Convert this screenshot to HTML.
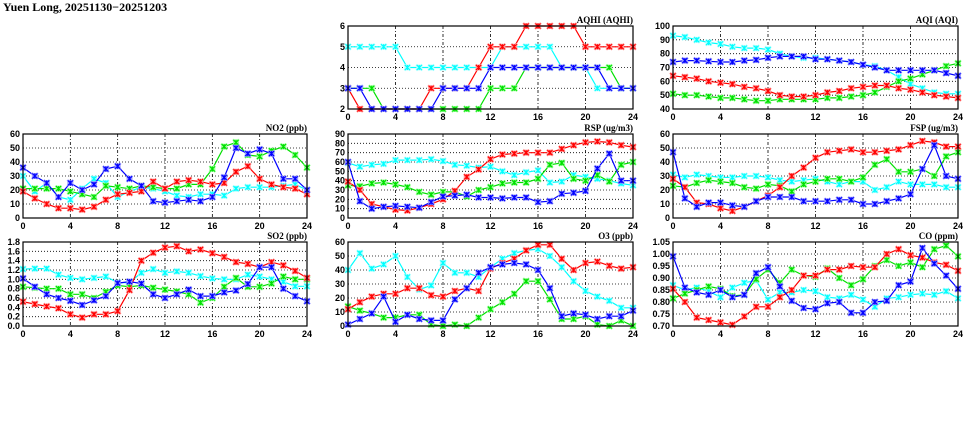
<!DOCTYPE html>
<html><head><meta charset="utf-8">
<style>
body{margin:0;background:#fff;width:975px;height:447px;overflow:hidden;}
svg{display:block;font-family:"Liberation Sans",sans-serif;}
.tick{font-size:9px;font-weight:bold;fill:#000;}
.ttl{font-family:"Liberation Serif",serif;font-size:9px;font-weight:bold;fill:#000;}
</style></head>
<body>
<svg id="chart" width="975" height="447" viewBox="0 0 975 447">
<text x="3" y="11" font-family="Liberation Serif, serif" font-weight="bold" font-size="12">Yuen Long, 20251130−20251203</text>
</svg>
<script>
const hours=[0,1,2,3,4,5,6,7,8,9,10,11,12,13,14,15,16,17,18,19,20,21,22,23,24];
const xTicks=[0,4,8,12,16,20,24];

const aqhiRed=[3,2,2,2,2,2,2,3,3,3,3,4,5,5,5,6,6,6,6,6,5,5,5,5,5];
const aqhiCyan=[5,5,5,5,5,4,4,4,4,4,4,4,4,5,5,5,5,5,4,4,4,3,3,3,3];
const aqhiGreen=[3,3,3,2,2,2,2,2,2,2,2,2,3,3,3,4,4,4,4,4,4,4,4,3,3];
const aqhiBlue=[3,3,2,2,2,2,2,2,3,3,3,3,4,4,4,4,4,4,4,4,4,4,3,3,3];
const aqhiTicks=[2,3,4,5,6];

const aqiCyan=[93,92,90,88,87,85,84,84,83,80,78,77,77,76,75,74,72,71,68,63,58,55,52,51,51];
const aqiBlue=[74,75,75,74.5,74,74,75,75.5,77,78,78,78,76,76,75,74,72,70,68,68,68,68,68,66,64];
const aqiRed=[64,63,62,60,59,58,56,55,53,50,49,49,50,52,53,55,56,57,57,55,54,52,50,49,48];
const aqiGreen=[51,50,50,49,48,48,47,46,46,47,47,47,47,48,48,49,50,52,56,60,62,65,68,71,73];
const aqiTicks=[40,50,60,70,80,90,100];

const no2Blue=[36,30,25,15,25,20,24,35,37,28,23,12,11,12,13,12,15,29,50,46,49,46,28,28,20];
const no2Cyan=[30,19,25,15,13,21,28,25,15,19,22,21,19,16,15,17,17,16,21,22,22,22,23,24,20];
const no2Green=[21,21,21,21,19,17,15,23,22,21,23,22,21,21,24,24,35,51,54,45,44,48,51,45,36];
const no2Red=[19,14,10,7,7,6,8,13,17,18,19,26,21,26,27,26,24,25,33,37,28,24,22,21,17];
const no2Ticks=[0,10,20,30,40,50,60];

const rspRed=[39,30,15,12,9,8,11,15,20,29,44,52,63,68,69,70,70,70,74,78,81,82,81,78,76];
const rspCyan=[59,55,57,58,62,62,62,63,61,57,56,54,55,50,46,49,51,38,39,46,44,42,40,37,35];
const rspGreen=[35,34,37,38,36,33,28,25,28,28,23,30,33,37,38,38,42,57,59,42,40,46,39,57,60];
const rspBlue=[60,18,10,12,13,12,11,17,23,24,25,22,22,21,22,22,17,18,26,27,29,53,69,40,40];
const rspTicks=[0,10,20,30,40,50,60,70,80,90];

const fspRed=[28,22,11,10,7,5,8,12,16,22,30,36,43,47,48,49,47,47,48,49,52,55,54,51,51];
const fspCyan=[31,29,31,30,29,29,30,30,29,27,26,27,28,26,24,26,26,20,22,26,24,24,24,22,22];
const fspGreen=[23,22,25,27,26,25,22,21,24,23,19,24,26,28,28,26,29,38,42,33,33,35,30,44,47];
const fspBlue=[47,14,8,11,11,9,8,12,15,15,15,12,12,12,13,13,10,10,12,14,17,35,52,30,28];
const fspTicks=[0,10,20,30,40,50,60];

const so2Red=[0.52,0.47,0.42,0.38,0.25,0.18,0.25,0.25,0.32,0.77,1.40,1.57,1.68,1.71,1.60,1.64,1.56,1.48,1.37,1.33,1.26,1.37,1.30,1.18,1.03];
const so2Cyan=[1.22,1.23,1.23,1.10,1.03,1.00,1.03,1.06,0.93,0.93,1.14,1.22,1.14,1.17,1.14,1.07,1.02,1.00,1.00,1.10,1.06,1.00,0.95,0.85,0.85];
const so2Green=[0.84,0.82,0.80,0.80,0.68,0.68,0.60,0.73,0.87,0.84,0.87,0.82,0.78,0.74,0.68,0.50,0.60,0.84,1.03,0.84,0.84,0.91,1.06,1.00,1.00];
const so2Blue=[1.02,0.84,0.68,0.60,0.54,0.45,0.55,0.64,0.92,0.95,0.91,0.68,0.60,0.68,0.78,0.64,0.64,0.72,0.76,0.90,1.26,1.26,0.80,0.64,0.53];
const so2Ticks=[0,0.2,0.4,0.6,0.8,1.0,1.2,1.4,1.6,1.8];

const o3Cyan=[40,52,41,44,50,35,26,29,45,38,38,35,42,48,52,54,55,50,42,32,25,21,18,13,13];
const o3Red=[12,17,21,23,23,27,27,22,21,25,27,25,41,45,48,54,58,58,48,40,45,46,43,41,42];
const o3Blue=[1,5,9,21,3,8,5,4,4,19,27,38,42,44,45,44,40,27,7,9,8,5,7,7,11];
const o3Green=[14,11,9,6,6,8,8,1,0,1,0,6,12,17,23,32,32,19,5,5,7,1,0,4,0];
const o3Ticks=[0,10,20,30,40,50,60];

const coBlue=[0.99,0.86,0.84,0.83,0.85,0.82,0.83,0.92,0.945,0.865,0.805,0.775,0.77,0.795,0.80,0.755,0.755,0.80,0.805,0.87,0.885,1.025,0.96,0.91,0.855];
const coCyan=[0.87,0.85,0.86,0.845,0.82,0.86,0.88,0.89,0.81,0.84,0.84,0.85,0.845,0.82,0.815,0.83,0.81,0.78,0.815,0.82,0.83,0.835,0.83,0.845,0.815];
const coRed=[0.855,0.80,0.735,0.725,0.715,0.705,0.74,0.78,0.78,0.82,0.85,0.91,0.91,0.935,0.935,0.95,0.945,0.945,1.00,1.02,0.995,0.985,0.965,0.955,0.93];
const coGreen=[0.815,0.835,0.85,0.865,0.855,0.825,0.83,0.895,0.935,0.88,0.935,0.91,0.905,0.94,0.90,0.87,0.895,0.95,0.975,0.95,0.965,0.945,1.02,1.035,0.99];
const coTicks=[0.70,0.75,0.80,0.85,0.90,0.95,1.00,1.05];

const NS="http://www.w3.org/2000/svg";
const svg=document.getElementById('chart');
function mk(tag,attrs,parent){const e=document.createElementNS(NS,tag);for(const k in attrs)e.setAttribute(k,attrs[k]);(parent||svg).appendChild(e);return e;}

const COLS={red:'#ff0000',green:'#00e000',blue:'#0000ff',cyan:'#00ffff'};
const HALO={red:'#ff9a9a',green:'#9aff9a',blue:'#9a9aff',cyan:'#b0ffff'};

function panel(key,title,x0,x1,y0,y1,ticks,dec,series){
  const g=mk('g',{});
  
  
  const ymin=ticks[0],ymax=ticks[ticks.length-1];
  const xs=h=>x0+(h/24)*(x1-x0);
  const ys=v=>y1-(v-ymin)/(ymax-ymin)*(y1-y0);
  ticks.forEach(t=>{
    if(t===ymin||t===ymax)return;
    const l=mk('line',{x1:x0,x2:x1,y1:ys(t),y2:ys(t),stroke:'#000','stroke-width':0.8,'stroke-dasharray':'1,2'},g);
    
    
  });
  xTicks.forEach(t=>{
    if(t===0||t===24)return;
    const l=mk('line',{x1:xs(t),x2:xs(t),y1:y0,y2:y1,stroke:'#000','stroke-width':0.8,'stroke-dasharray':'3,2,1,2'},g);
    
    
  });
  ticks.forEach(t=>{
    const tx=mk('text',{x:x0-3,y:ys(t)+3,'text-anchor':'end',class:'tick'},g);
    tx.textContent=t.toFixed(dec);
    
    
  });
  xTicks.forEach(t=>{
    const tx=mk('text',{x:xs(t),y:y1+11,'text-anchor':'middle',class:'tick'},g);
    tx.textContent=t;
    
    
  });
  const tt=mk('text',{x:x1,y:y0-3,'text-anchor':'end',class:'ttl'},g);
  tt.textContent=title;
  
  
  series.forEach(([col,vals])=>{
    const sg=mk('g',{},g);
    
    
    const pts=vals.map((v,i)=>xs(hours[i]).toFixed(1)+','+ys(v).toFixed(1)).join(' ');
    const pl=mk('polyline',{points:pts,fill:'none',stroke:COLS[col],'stroke-width':1.2},sg);
    
    
    vals.forEach((v,i)=>{
      const cx=xs(hours[i]),cy=ys(v),r=3;
      const m=mk('path',{d:`M${cx-r},${cy-r}L${cx+r},${cy+r}M${cx-r},${cy+r}L${cx+r},${cy-r}M${cx},${cy-r}V${cy+r}M${cx-r},${cy}H${cx+r}`,stroke:HALO[col],'stroke-width':2.2,fill:'none'},sg);
      
      
      const m2=mk('path',{d:`M${cx-2.5},${cy-2.5}L${cx+2.5},${cy+2.5}M${cx-2.5},${cy+2.5}L${cx+2.5},${cy-2.5}M${cx},${cy-2.5}V${cy+2.5}`,stroke:COLS[col],'stroke-width':1.2,fill:'none'},sg);
      
      
    });
  });
  const fr=mk('rect',{x:x0,y:y0,width:x1-x0,height:y1-y0,fill:'none',stroke:'#000','stroke-width':1.2},g);
  
  
}

const L=[23,307],M=[348,633],R=[673,958];
const R1=[26,109],R2=[134,218],R3=[242,326];
panel('aqhi','AQHI (AQHI)',M[0],M[1],R1[0],R1[1],aqhiTicks,0,[['cyan',aqhiCyan],['green',aqhiGreen],['red',aqhiRed],['blue',aqhiBlue]]);
panel('aqi','AQI (AQI)',R[0],R[1],R1[0],R1[1],aqiTicks,0,[['cyan',aqiCyan],['green',aqiGreen],['red',aqiRed],['blue',aqiBlue]]);
panel('no2','NO2 (ppb)',L[0],L[1],R2[0],R2[1],no2Ticks,0,[['cyan',no2Cyan],['green',no2Green],['red',no2Red],['blue',no2Blue]]);
panel('rsp','RSP (ug/m3)',M[0],M[1],R2[0],R2[1],rspTicks,0,[['cyan',rspCyan],['green',rspGreen],['red',rspRed],['blue',rspBlue]]);
panel('fsp','FSP (ug/m3)',R[0],R[1],R2[0],R2[1],fspTicks,0,[['cyan',fspCyan],['green',fspGreen],['red',fspRed],['blue',fspBlue]]);
panel('so2','SO2 (ppb)',L[0],L[1],R3[0],R3[1],so2Ticks,1,[['cyan',so2Cyan],['green',so2Green],['red',so2Red],['blue',so2Blue]]);
panel('o3','O3 (ppb)',M[0],M[1],R3[0],R3[1],o3Ticks,0,[['cyan',o3Cyan],['green',o3Green],['red',o3Red],['blue',o3Blue]]);
panel('co','CO (ppm)',R[0],R[1],R3[0],R3[1],coTicks,2,[['cyan',coCyan],['green',coGreen],['red',coRed],['blue',coBlue]]);
</script>
</body></html>
